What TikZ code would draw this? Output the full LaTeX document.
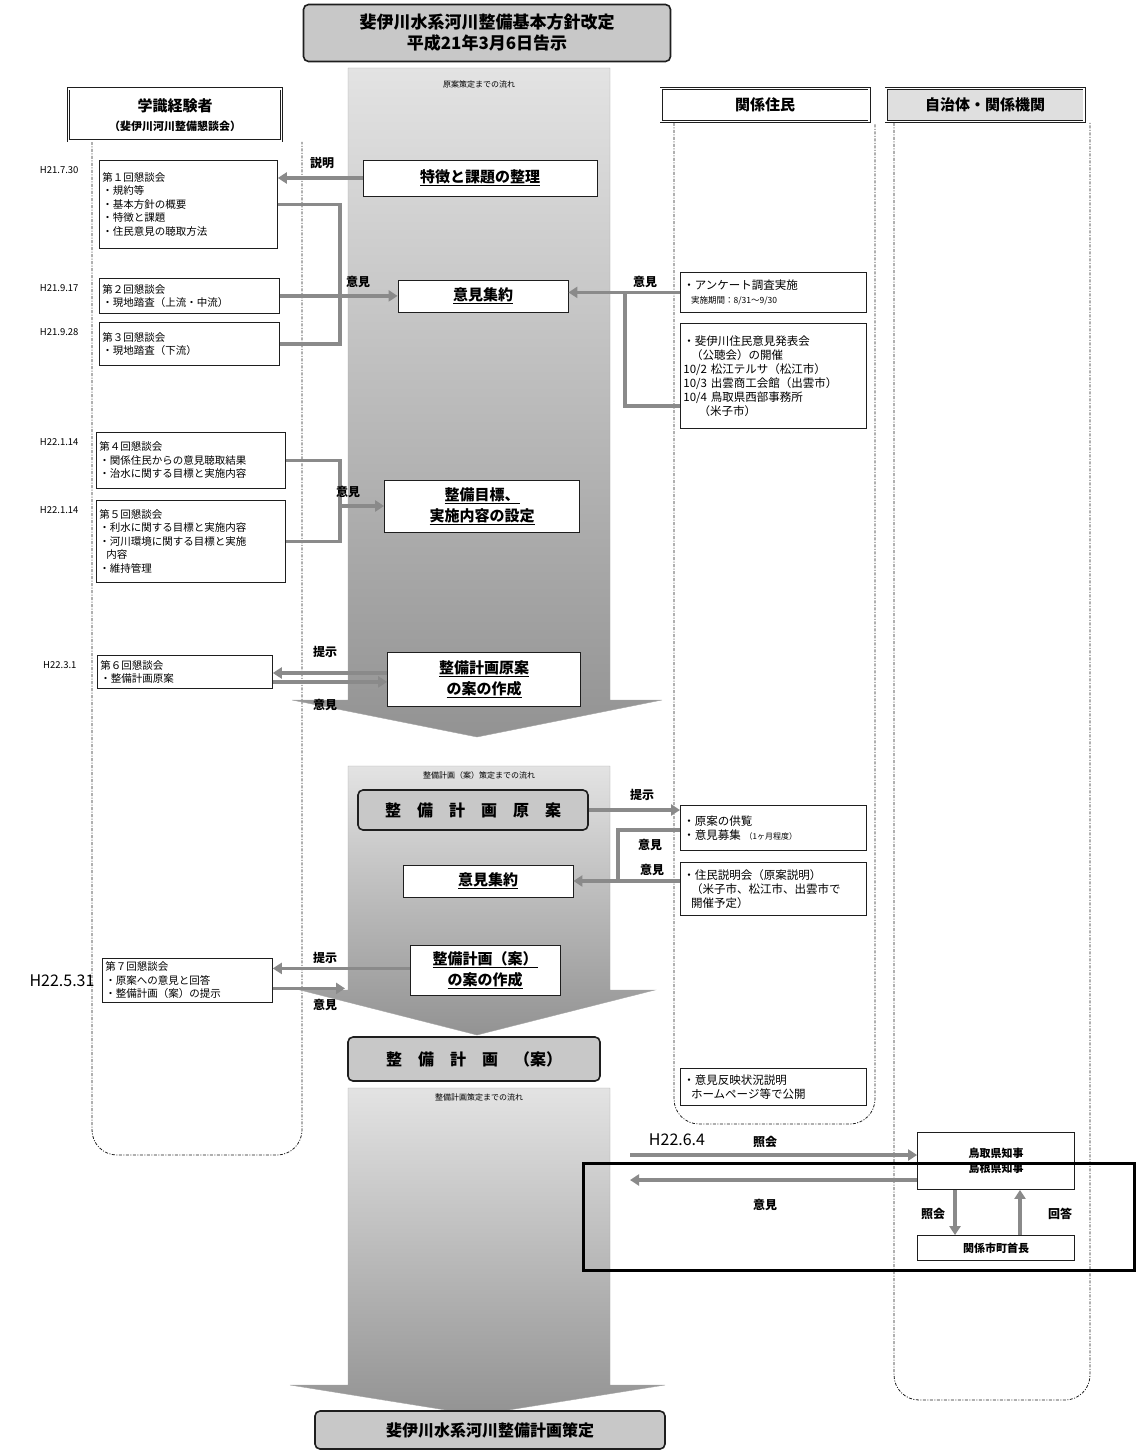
\documentclass[tikz,border=0pt]{standalone}
\usepackage{fontspec}
\setmainfont{Noto Sans CJK JP}
\usetikzlibrary{arrows.meta,positioning,calc}
\definecolor{hvgrey}{HTML}{8A8A8A}
\definecolor{hvlight}{HTML}{C8C8C8}
\definecolor{hvdark}{HTML}{1E1E1E}
\tikzset{
  colhead/.style={draw=hvdark,double,double distance=1.6pt,line width=0.7pt,fill=white,
                  align=center,font=\bfseries\fontsize{15}{19}\selectfont,inner sep=2pt},
  task/.style={draw=hvdark,thick,fill=white,align=center,
               font=\bfseries\fontsize{15}{21}\selectfont,inner sep=2pt},
  stage/.style={draw=hvdark,line width=1.6pt,rounded corners=5pt,fill=hvlight,align=center,
                font=\bfseries\fontsize{16}{20}\selectfont,inner sep=2pt},
  meet/.style={draw=hvdark,thick,fill=white,anchor=north west,align=left,
               font=\fontsize{10.5}{13.5}\selectfont,inner sep=3pt},
  res/.style={meet,font=\fontsize{11.5}{14}\selectfont},
  gov/.style={draw=hvdark,thick,fill=white,align=center,
              font=\bfseries\fontsize{11}{15}\selectfont},
  date/.style={font=\fontsize{9.5}{10}\selectfont},
  bigdate/.style={font=\fontsize{16}{18}\selectfont},
  lbl/.style={font=\bfseries\fontsize{12}{14}\selectfont},
  flowcap/.style={font=\fontsize{8}{9}\selectfont},
  fb/.style={-{Triangle[length=9pt,width=11pt]},line width=3.5pt,draw=hvgrey},
  fbline/.style={line width=3.5pt,draw=hvgrey},
  lane/.style={draw=hvdark,dash pattern=on 3pt off 1.5pt on 1pt off 1.5pt,line width=0.8pt,
               rounded corners=25pt},
  flow/.style={top color=gray!22,bottom color=gray!85,draw=gray!70},
}
\begin{document}
\begin{tikzpicture}[x=1pt,y=-1pt]
\useasboundingbox (0,0) rectangle (1136,1450);
% lanes
\draw[lane] (92,142) -- (92,1155) -- (302,1155) -- (302,142);
\draw[lane] (674,123) -- (674,1124) -- (875,1124) -- (875,123);
\draw[lane] (894,123) -- (894,1400) -- (1090,1400) -- (1090,123);
% flow arrows
\path[flow] (348,68) -- (610,68) -- (610,700) -- (662,700) -- (477,737) -- (292,700) -- (348,700) -- cycle;
\path[flow] (348,766) -- (610,766) -- (610,990) -- (655,990) -- (477,1035) -- (300,990) -- (348,990) -- cycle;
\path[flow] (348,1088) -- (610,1088) -- (610,1385) -- (665,1385) -- (477,1415) -- (290,1385) -- (348,1385) -- cycle;
\node[flowcap] (capA) at (479,84) {原案策定までの流れ};
\node[flowcap] (capB) at (479,775) {整備計画（案）策定までの流れ};
\node[flowcap] (capC) at (479,1097) {整備計画策定までの流れ};

% headers
\node[stage,minimum width=367pt,minimum height=57pt,font=\bfseries\fontsize{17}{21}\selectfont]
  (title) at (487,33) {斐伊川水系河川整備基本方針改定\\平成21年3月6日告示};
\node[colhead,minimum width=213pt,minimum height=52pt] (gakushiki) at (175,115)
  {学識経験者\\{\fontsize{11}{13}\selectfont （斐伊川河川整備懇談会）}};
\node[colhead,minimum width=208pt,minimum height=33pt] (jumin) at (765,105) {関係住民};
\node[colhead,fill=gray!25,minimum width=198pt,minimum height=33pt] (jichitai) at (985,105) {自治体・関係機関};

% main steps
\node[task,minimum width=234pt,minimum height=36pt] (seiri) at (480,178) {\underline{特徴と課題の整理}};
\node[task,minimum width=170pt,minimum height=32pt] (shuyaku) at (483,296) {\underline{意見集約}};
\node[task,minimum width=195pt,minimum height=52pt] (mokuhyo) at (482,506)
  {\underline{整備目標、}\\\underline{実施内容の設定}};
\node[task,minimum width=193pt,minimum height=54pt] (genanAn) at (484,679)
  {\underline{整備計画原案}\\\underline{の案の作成}};
\node[stage,minimum width=230pt,minimum height=40pt] (genan) at (473,810) {整　備　計　画　原　案};
\node[task,minimum width=170pt,minimum height=32pt] (shuyakuB) at (488,881) {\underline{意見集約}};
\node[task,minimum width=150pt,minimum height=50pt] (anAn) at (485,970)
  {\underline{整備計画（案）}\\\underline{の案の作成}};
\node[stage,minimum width=252pt,minimum height=44pt] (keikakuAn) at (474,1059) {整　備　計　画　（案）};
\node[stage,minimum width=350pt,minimum height=38pt] (sakutei) at (490,1430) {斐伊川水系河川整備計画策定};

% 懇談会
\node[meet,text width=172pt,minimum height=88pt] (k1) at (99,160)
  {第１回懇談会\\・規約等\\・基本方針の概要\\・特徴と課題\\・住民意見の聴取方法};
\node[meet,text width=174pt,minimum height=35pt] (k2) at (99,278) {第２回懇談会\\・現地踏査（上流・中流）};
\node[meet,text width=174pt,minimum height=43pt] (k3) at (99,322) {第３回懇談会\\・現地踏査（下流）};
\node[meet,text width=183pt,minimum height=56pt] (k4) at (96,432)
  {第４回懇談会\\・関係住民からの意見聴取結果\\・治水に関する目標と実施内容};
\node[meet,text width=183pt,minimum height=82pt] (k5) at (96,500)
  {第５回懇談会\\・利水に関する目標と実施内容\\・河川環境に関する目標と実施\\\ \ 内容\\・維持管理};
\node[meet,text width=169pt,minimum height=33pt] (k6) at (97,655) {第６回懇談会\\・整備計画原案};
\node[meet,text width=164pt,minimum height=44pt] (k7) at (102,958)
  {第７回懇談会\\・原案への意見と回答\\・整備計画（案）の提示};

% dates
\node[date,anchor=north east] at ([xshift=-17pt,yshift=-3pt]k1.north west) {H21.7.30};
\node[date,anchor=north east] at ([xshift=-17pt,yshift=-3pt]k2.north west) {H21.9.17};
\node[date,anchor=north east] at ([xshift=-17pt,yshift=-3pt]k3.north west) {H21.9.28};
\node[date,anchor=north east] at ([xshift=-14pt,yshift=-3pt]k4.north west) {H22.1.14};
\node[date,anchor=north east] at ([xshift=-14pt,yshift=-3pt]k5.north west) {H22.1.14};
\node[date,anchor=north east] at ([xshift=-17pt,yshift=-3pt]k6.north west) {H22.3.1};
\node[bigdate,left=4pt of k7.west] {H22.5.31};

% 住民
\node[res,text width=180pt,minimum height=40pt] (j1) at (680,272)
  {・アンケート調査実施\\\ \ {\fontsize{8.5}{10}\selectfont 実施期間：8/31～9/30}};
\node[res,text width=180pt,minimum height=105pt] (j2) at (680,323)
  {・斐伊川住民意見発表会\\\ \ （公聴会）の開催\\10/2 松江テルサ（松江市）\\10/3 出雲商工会館（出雲市）\\10/4 鳥取県西部事務所\\\quad\ （米子市）};
\node[res,text width=180pt,minimum height=45pt] (j3) at (680,805)
  {・原案の供覧\\・意見募集 {\fontsize{8}{10}\selectfont（1ヶ月程度）}};
\node[res,text width=180pt,minimum height=53pt] (j4) at (680,862)
  {・住民説明会（原案説明）\\\ \ （米子市、松江市、出雲市で\\\ \ 開催予定）};
\node[res,text width=180pt,minimum height=37pt] (j5) at (680,1068)
  {・意見反映状況説明\\\ \ ホームページ等で公開};

% 自治体
\node[gov,minimum width=157pt,minimum height=57pt] (chiji) at (996,1161) {鳥取県知事\\島根県知事};
\node[gov,minimum width=157pt,minimum height=25pt] (shucho) at (996,1248) {関係市町首長};

% left connectors
\draw[fb] (seiri.west) -- (seiri.west -| k1.east);
\node[lbl] at (322,163) {説明};
\coordinate (jL1) at (k2.east -| 340,0);
\draw[fbline] (k1.east) -| (jL1);
\draw[fbline] (k3.east) -| (jL1);
\draw[fb] (k2.east) -- (k2.east -| shuyaku.west);
\node[lbl] at (358,282) {意見};
\coordinate (jL2) at (340,506);
\draw[fbline] (k4.east) -| (jL2);
\draw[fbline] (k5.east) -| (jL2);
\draw[fb] (jL2) -- (mokuhyo.west);
\node[lbl] at (348,492) {意見};
\draw[fb] ([yshift=6pt]genanAn.west) -- ([yshift=6pt]genanAn.west -| k6.east);
\draw[fb] ([yshift=-10pt]k6.east) -- ([yshift=-10pt]k6.east -| genanAn.west);
\node[lbl] at (325,652) {提示};
\node[lbl] at (325,705) {意見};
\draw[fb] ([yshift=12pt]k7.east -| anAn.west) -- ([yshift=12pt]k7.east);
\draw[fb] ([yshift=-8pt]k7.east) -- ([yshift=-8pt]k7.east -| 345,0);
\node[lbl] at (325,958) {提示};
\node[lbl] at (325,1005) {意見};

% right connectors
\coordinate (jR1) at (625,292);
\draw[fbline] ([yshift=-30pt]j2.west) -| (jR1);
\draw[fb] (j1.west) -- (j1.west -| shuyaku.east);
\node[lbl] at (645,282) {意見};
\draw[fb] (genan.east) -- (genan.east -| j3.west);
\node[lbl] at (642,795) {提示};
\coordinate (jR2) at (618,830);
\draw[fbline] (j3.west |- jR2) -- (jR2) -- (jR2 |- shuyakuB.east);
\draw[fb] (j4.west |- shuyakuB.east) -- (shuyakuB.east);
\node[lbl] at (650,845) {意見};
\node[lbl] at (652,870) {意見};

% 自治体 connectors
\coordinate (s3a) at (630,1155);
\coordinate (s3b) at (630,1180);
\draw[fb] (s3a) -- (s3a -| chiji.west);
\draw[fb] (s3b -| chiji.west) -- (s3b);
\node[bigdate] at (677,1140) {H22.6.4};
\node[lbl] at (765,1142) {照会};
\node[lbl] at (765,1205) {意見};
\draw[fb] ([xshift=-41pt]chiji.south) -- ([xshift=-41pt]chiji.south |- shucho.north);
\draw[fb] ([xshift=24pt]shucho.north) -- ([xshift=24pt]shucho.north |- chiji.south);
\node[lbl] at (933,1214) {照会};
\node[lbl] at (1060,1214) {回答};

% highlight frame
\draw[line width=3pt] (583,1163) rectangle (1134,1270);
\end{tikzpicture}
\end{document}
